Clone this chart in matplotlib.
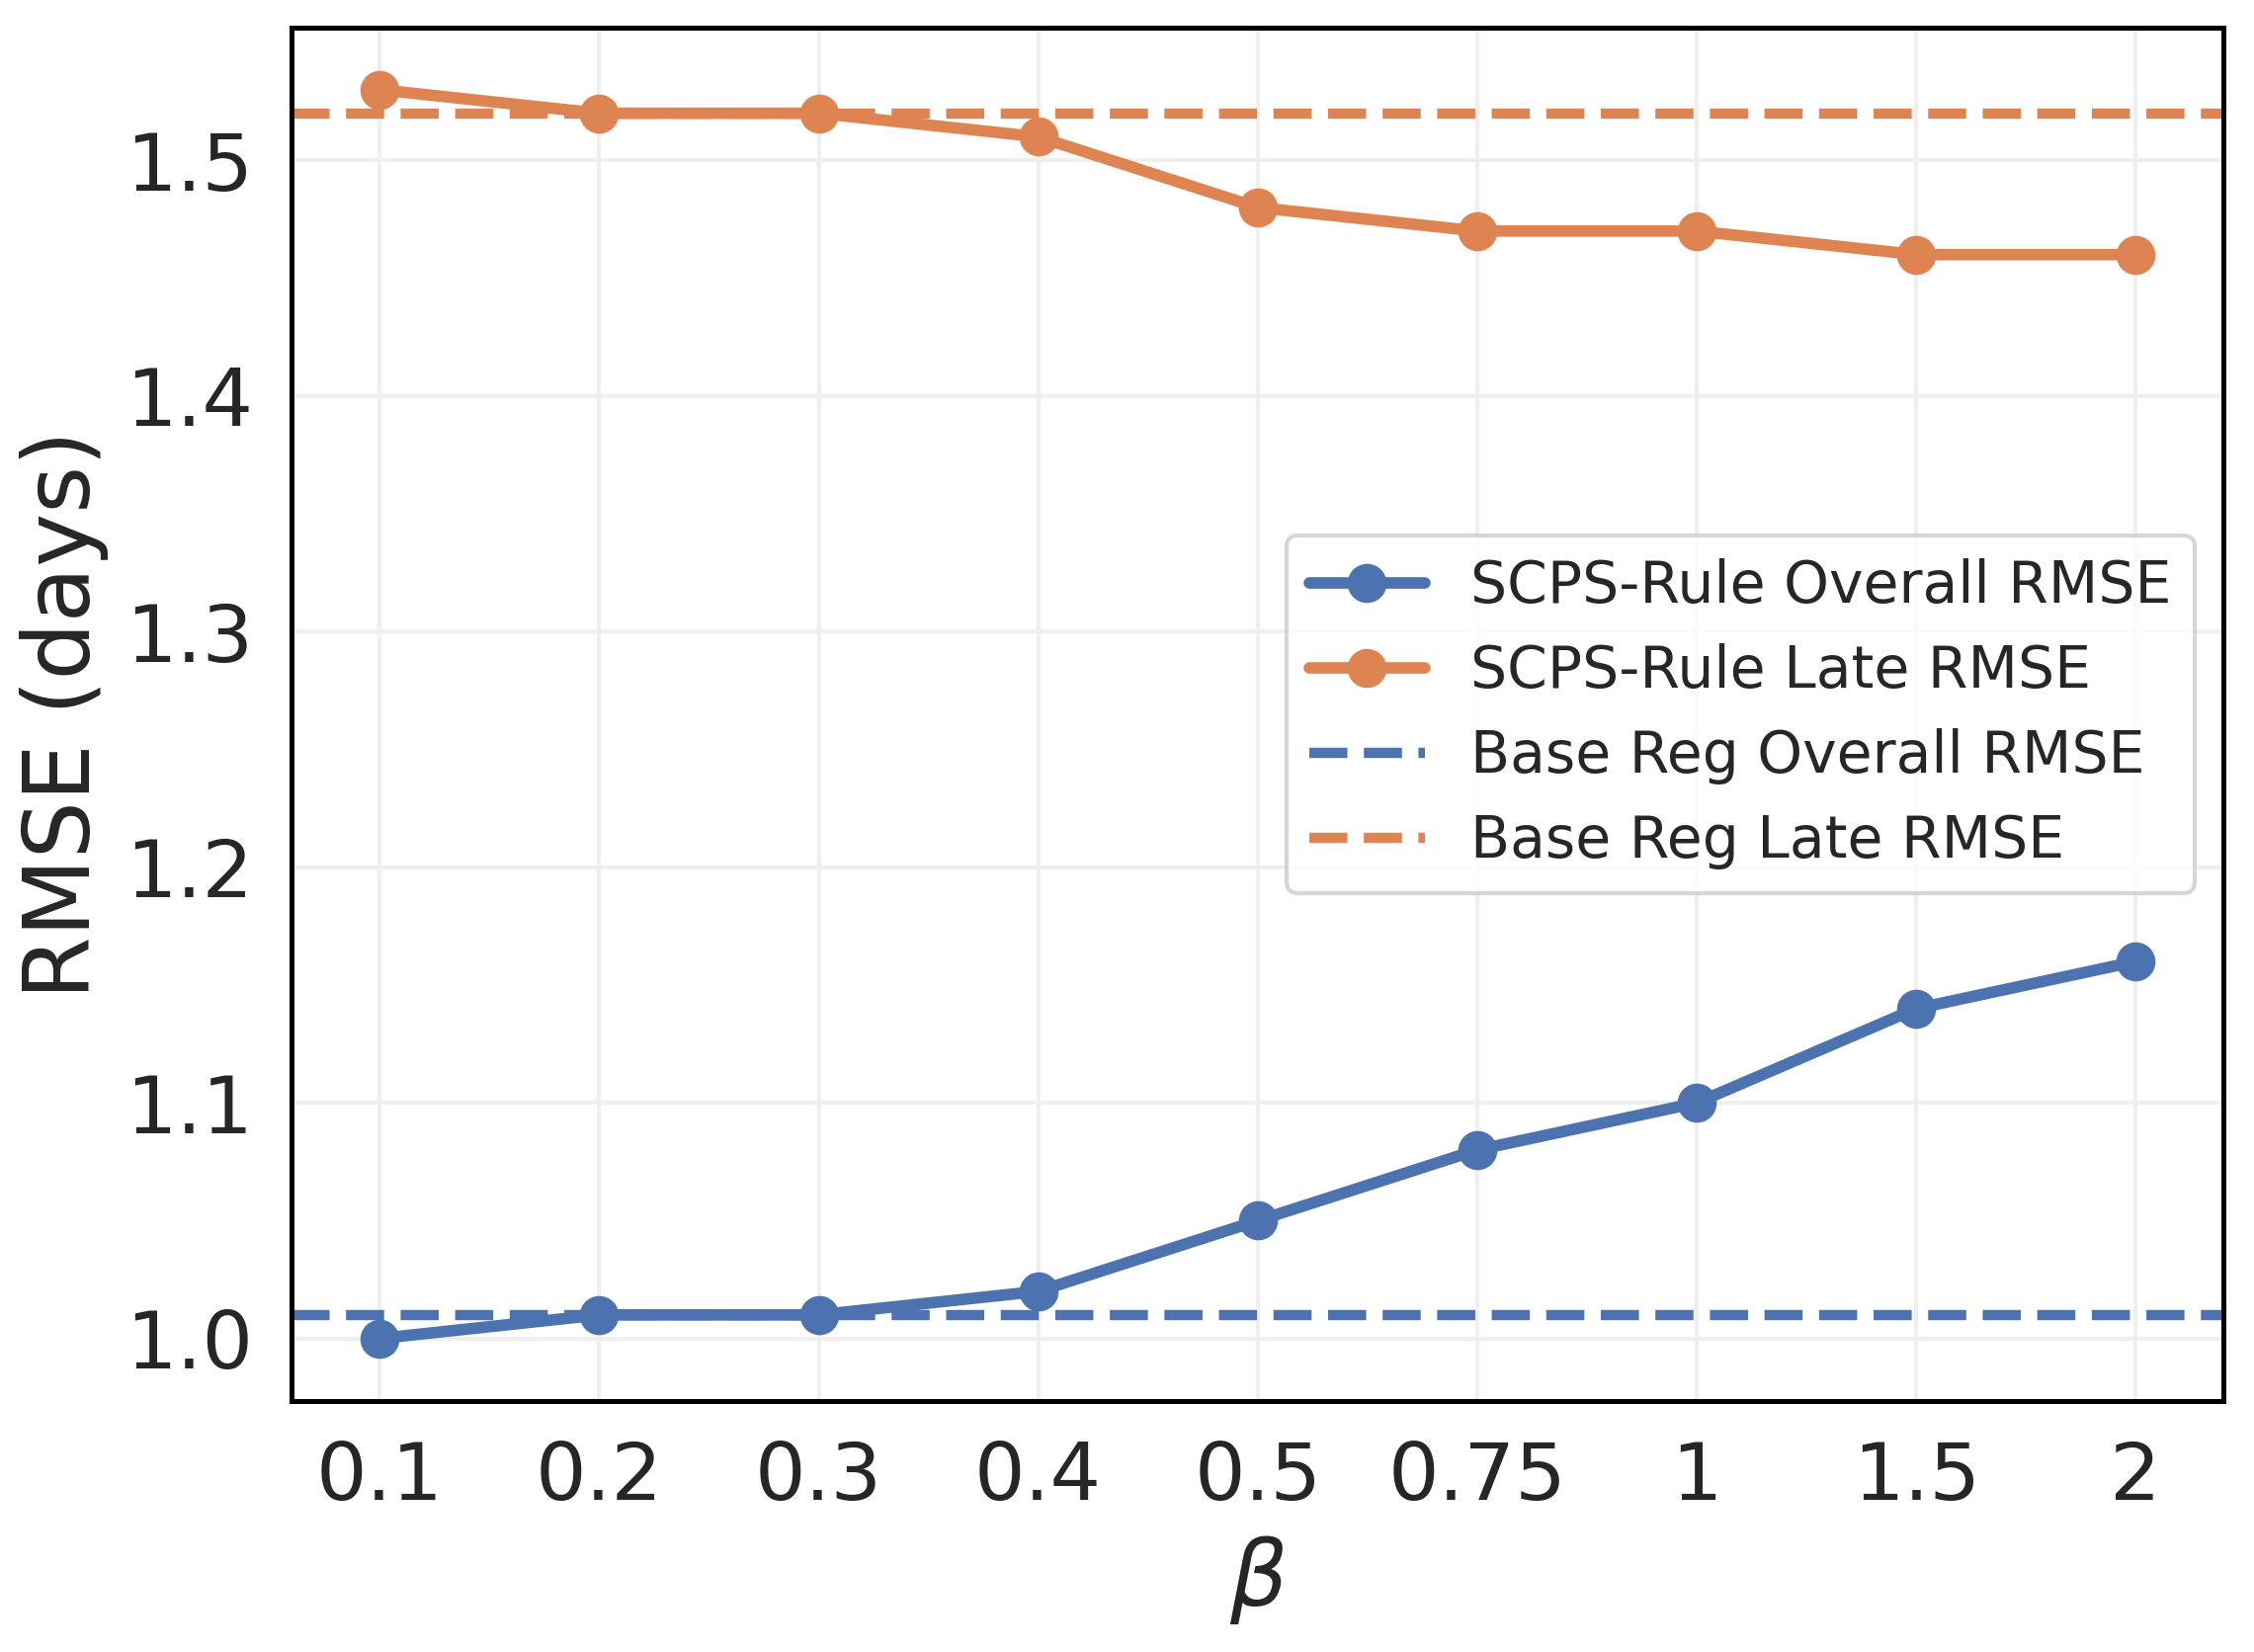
import matplotlib
matplotlib.use("Agg")
import matplotlib.pyplot as plt
import seaborn as sns

betas = ["0.1", "0.2", "0.3", "0.4", "0.5", "0.75", "1", "1.5", "2"]
overall_rmse = [1.00, 1.01, 1.01, 1.02, 1.05, 1.08, 1.10, 1.14, 1.16]
late_rmse = [1.53, 1.52, 1.52, 1.51, 1.48, 1.47, 1.47, 1.46, 1.46]
base_overall = 1.01
base_late = 1.52

sns.set_theme(style="whitegrid")
plt.rcParams['font.family'] = ['DejaVu Sans']

blue = "#4C72B0"
orange = "#DD8452"

fig = plt.figure(figsize=(2281/300, 1672/300), dpi=300)
ax = fig.add_axes([0.1295, 0.152, 0.857, 0.8315])

x = list(range(len(betas)))
ax.plot(x, overall_rmse, marker='o', color=blue, lw=2.8, ms=8.5, label="SCPS-Rule Overall RMSE")
ax.plot(x, late_rmse, marker='o', color=orange, lw=2.8, ms=8.5, label="SCPS-Rule Late RMSE")
ax.axhline(base_overall, color=blue, ls='--', lw=2.5, label="Base Reg Overall RMSE")
ax.axhline(base_late, color=orange, ls='--', lw=2.5, label="Base Reg Late RMSE")

ax.set_xticks(x)
ax.set_xticklabels(betas)
ax.set_yticks([1.0, 1.1, 1.2, 1.3, 1.4, 1.5])
ax.tick_params(labelsize=19.5)
ax.set_xlabel(r"$\beta$", fontsize=22)
ax.set_ylabel("RMSE (days)", fontsize=22)
ax.grid(True, color="#efefef", lw=1)
for s in ax.spines.values():
    s.set_color("black")
    s.set_linewidth(1.2)
ax.legend(loc="center right", fontsize=14, frameon=True)

fig.savefig("out.png", dpi=300)
